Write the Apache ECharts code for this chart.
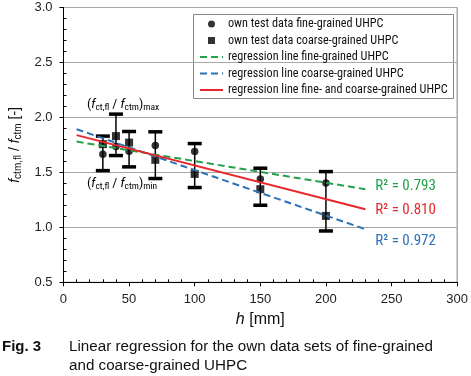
<!DOCTYPE html>
<html><head><meta charset="utf-8">
<script src="https://cdn.jsdelivr.net/npm/echarts@6/dist/echarts.min.js"></script>
<style>html,body{margin:0;padding:0;background:#fff}#c{width:471px;height:376px}</style>
</head><body><div id="c"></div><script>
// ---- data ----
var heights = [30, 40, 50, 70, 100, 150, 200];
var fineMeans = [1.666, 1.735, 1.693, 1.744, 1.689, 1.44, 1.404];
var coarseMeans = [1.757, 1.83, 1.771, 1.614, 1.486, 1.347, 1.104];
var errLow = [1.516, 1.653, 1.55, 1.444, 1.362, 1.201, 0.967];
var errHigh = [1.83, 2.03, 1.872, 1.869, 1.762, 1.538, 1.507];
var regX = [10, 230];
var fineReg = [1.78, 1.347];
var coarseReg = [1.893, 0.983];
var allReg = [1.839, 1.165];
var r2Labels = ['R\u00b2 = 0.793', 'R\u00b2 = 0.972', 'R\u00b2 = 0.810'];
var xTicks = {min: 0, max: 300, interval: 50};
var yTicks = {min: 0.5, max: 3.0, interval: 0.5};
var names = ['own test data fine-grained UHPC', 'own test data coarse-grained UHPC',
  'regression line fine-grained UHPC', 'regression line coarse-grained UHPC',
  'regression line fine- and coarse-grained UHPC'];

var FONT = "'Liberation Sans', Arial, sans-serif";
var NARROW = "'Roboto Condensed', 'Liberation Sans', Arial, sans-serif";
var GREEN = '#23a24b', BLUE = '#2b72b6', RED = '#e9262b';

function zip(a, b) { return a.map(function (v, i) { return [v, b[i]]; }); }
var errData = heights.map(function (h, i) { return [h, errLow[i], errHigh[i]]; });

var chart = echarts.init(document.getElementById('c'), null, {renderer: 'canvas'});
var grid = {left: 61, top: 7.5, width: 399.5, height: 274.8, show: true, borderColor: '#808080', borderWidth: 1, backgroundColor: 'transparent'};

var subStyle = {fontSize: 10, fontFamily: FONT, color: '#111', verticalAlign: 'bottom', lineHeight: 10};
var mainStyle = {fontSize: 14, fontFamily: FONT, color: '#111', lineHeight: 17};
var itStyle = {fontSize: 14, fontFamily: FONT, fontStyle: 'italic', color: '#111', lineHeight: 17};
var nSub = {fontSize: 9.5, fontFamily: NARROW, color: '#111', verticalAlign: 'bottom', lineHeight: 10};
var nMain = {fontSize: 13.5, fontFamily: NARROW, color: '#111', lineHeight: 16};
var nIt = {fontSize: 13.5, fontFamily: NARROW, fontStyle: 'italic', color: '#111', lineHeight: 16};

function regLine(name, xs, ys, color, dashed, label, off) {
  return {
    name: name, type: 'line', data: zip(xs, ys), symbol: 'none', z: 5,
    lineStyle: {color: color, width: 2, type: dashed ? [7, 4] : 'solid'},
    itemStyle: {color: color},
    endLabel: {show: true, formatter: label, color: color, fontSize: 15, fontFamily: NARROW, distance: 10, offset: off},
    emphasis: {disabled: true}, silent: true, animation: false
  };
}

chart.setOption({
  animation: false,
  grid: grid,
  xAxis: [{
    type: 'value', min: xTicks.min, max: xTicks.max, interval: xTicks.interval,
    axisLine: {lineStyle: {color: '#000', width: 1}},
    axisTick: {show: true, inside: false, length: 4, lineStyle: {color: '#000'}},
    axisLabel: {margin: 11, fontSize: 13, fontFamily: FONT, color: '#222'},
    splitLine: {show: false},
    name: '{i|h}{n| [mm]}', nameLocation: 'middle', nameGap: 27,
    nameTextStyle: {rich: {i: {fontSize: 16, fontStyle: 'italic', fontFamily: FONT, color: '#111'}, n: {fontSize: 16, fontFamily: FONT, color: '#111'}}}
  }, {
    type: 'value', position: 'bottom', min: xTicks.min, max: xTicks.max, interval: xTicks.interval,
    axisLine: {show: false}, axisTick: {show: false, inside: true}, axisLabel: {show: false}, splitLine: {show: false},
    minorTick: {show: true, splitNumber: 5, length: 3, lineStyle: {color: '#000'}}
  }],
  yAxis: [{
    type: 'value', min: yTicks.min, max: yTicks.max, interval: yTicks.interval,
    axisLine: {show: true, lineStyle: {color: '#000', width: 1}},
    axisTick: {show: true, inside: false, length: 4, lineStyle: {color: '#000'}},
    axisLabel: {margin: 11, fontSize: 13, fontFamily: FONT, color: '#222', formatter: function (v) { return v.toFixed(1); }},
    splitLine: {show: true, lineStyle: {color: '#a8a8a8', width: 1}},
    name: '{i|f}{s|ctm,fl}{n| / }{i|f}{s|ctm}{n| [-]}', nameLocation: 'middle', nameGap: 38, nameRotate: 90,
    nameTextStyle: {rich: {i: itStyle, s: subStyle, n: mainStyle}}
  }, {
    type: 'value', position: 'left', min: yTicks.min, max: yTicks.max, interval: yTicks.interval,
    axisLine: {show: false}, axisTick: {show: false, inside: true}, axisLabel: {show: false}, splitLine: {show: false},
    minorTick: {show: true, splitNumber: 5, length: 3, lineStyle: {color: '#000'}}
  }],
  legend: {
    orient: 'vertical', left: 199, top: 17.5, padding: 0, itemGap: 3.5, itemWidth: 23, itemHeight: 7,
    selectedMode: false,
    data: [
      {name: names[0], icon: 'circle'},
      {name: names[1], icon: 'path://M0,0H10V10H0Z'},
      {name: names[2], itemStyle: {opacity: 0}},
      {name: names[3], itemStyle: {opacity: 0}},
      {name: names[4], itemStyle: {opacity: 0}}
    ],
    textStyle: {fontSize: 12.2, fontFamily: NARROW, color: '#111', lineHeight: 13, padding: [0, 0, 0, 0]}
  },
  graphic: [
    {type: 'rect', shape: {x: 193.5, y: 14.5, width: 260, height: 84}, style: {fill: '#fff', stroke: '#888', lineWidth: 1}, z: 0, silent: true},
    {type: 'text', left: 87, top: 98, style: {text: '{n|(}{i|f}{s|ct,fl}{n| / }{i|f}{s|ctm}{n|)}{s|max}', rich: {i: nIt, s: nSub, n: nMain}}, z: 10},
    {type: 'text', left: 87, top: 177, style: {text: '{n|(}{i|f}{s|ct,fl}{n| / }{i|f}{s|ctm}{n|)}{s|min}', rich: {i: nIt, s: nSub, n: nMain}}, z: 10},
    {type: 'text', left: 2, top: 339.5, style: {text: 'Fig. 3', font: 'bold 15px ' + FONT, fill: '#111'}},
    {type: 'text', left: 69, top: 339.5, style: {text: 'Linear regression for the own data sets of fine-grained', font: '15.2px ' + FONT, fill: '#111'}},
    {type: 'text', left: 69, top: 358.5, style: {text: 'and coarse-grained UHPC', font: '15.2px ' + FONT, fill: '#111'}}
  ],
  series: [
    {
      name: 'err', type: 'custom', data: errData, encode: {x: 0, y: [1, 2]}, z: 2, silent: true,
      renderItem: function (params, api) {
        var x = api.value(0), lo = api.value(1), hi = api.value(2);
        var a = api.coord([x, hi]), b = api.coord([x, lo]);
        var hw = 7;
        return {type: 'group', children: [
          {type: 'line', shape: {x1: a[0], y1: a[1], x2: b[0], y2: b[1]}, style: {stroke: '#000', lineWidth: 1.5}},
          {type: 'line', shape: {x1: a[0] - hw, y1: a[1], x2: a[0] + hw, y2: a[1]}, style: {stroke: '#000', lineWidth: 3.5}},
          {type: 'line', shape: {x1: b[0] - hw, y1: b[1], x2: b[0] + hw, y2: b[1]}, style: {stroke: '#000', lineWidth: 3.5}}
        ]};
      }
    },
    {name: names[0], type: 'scatter', data: zip(heights, fineMeans), symbol: 'circle', symbolSize: 7.5, itemStyle: {color: '#000'}, z: 3, silent: true},
    {name: names[1], type: 'scatter', data: zip(heights, coarseMeans), symbol: 'rect', symbolSize: 8, itemStyle: {color: '#000'}, z: 3, silent: true},
    regLine(names[2], regX, fineReg, GREEN, true, r2Labels[0], [0, -3]),
    regLine(names[3], regX, coarseReg, BLUE, true, r2Labels[1], [0, 12]),
    regLine(names[4], regX, allReg, RED, false, r2Labels[2], [0, 1])
  ]
});
</script></body></html>
